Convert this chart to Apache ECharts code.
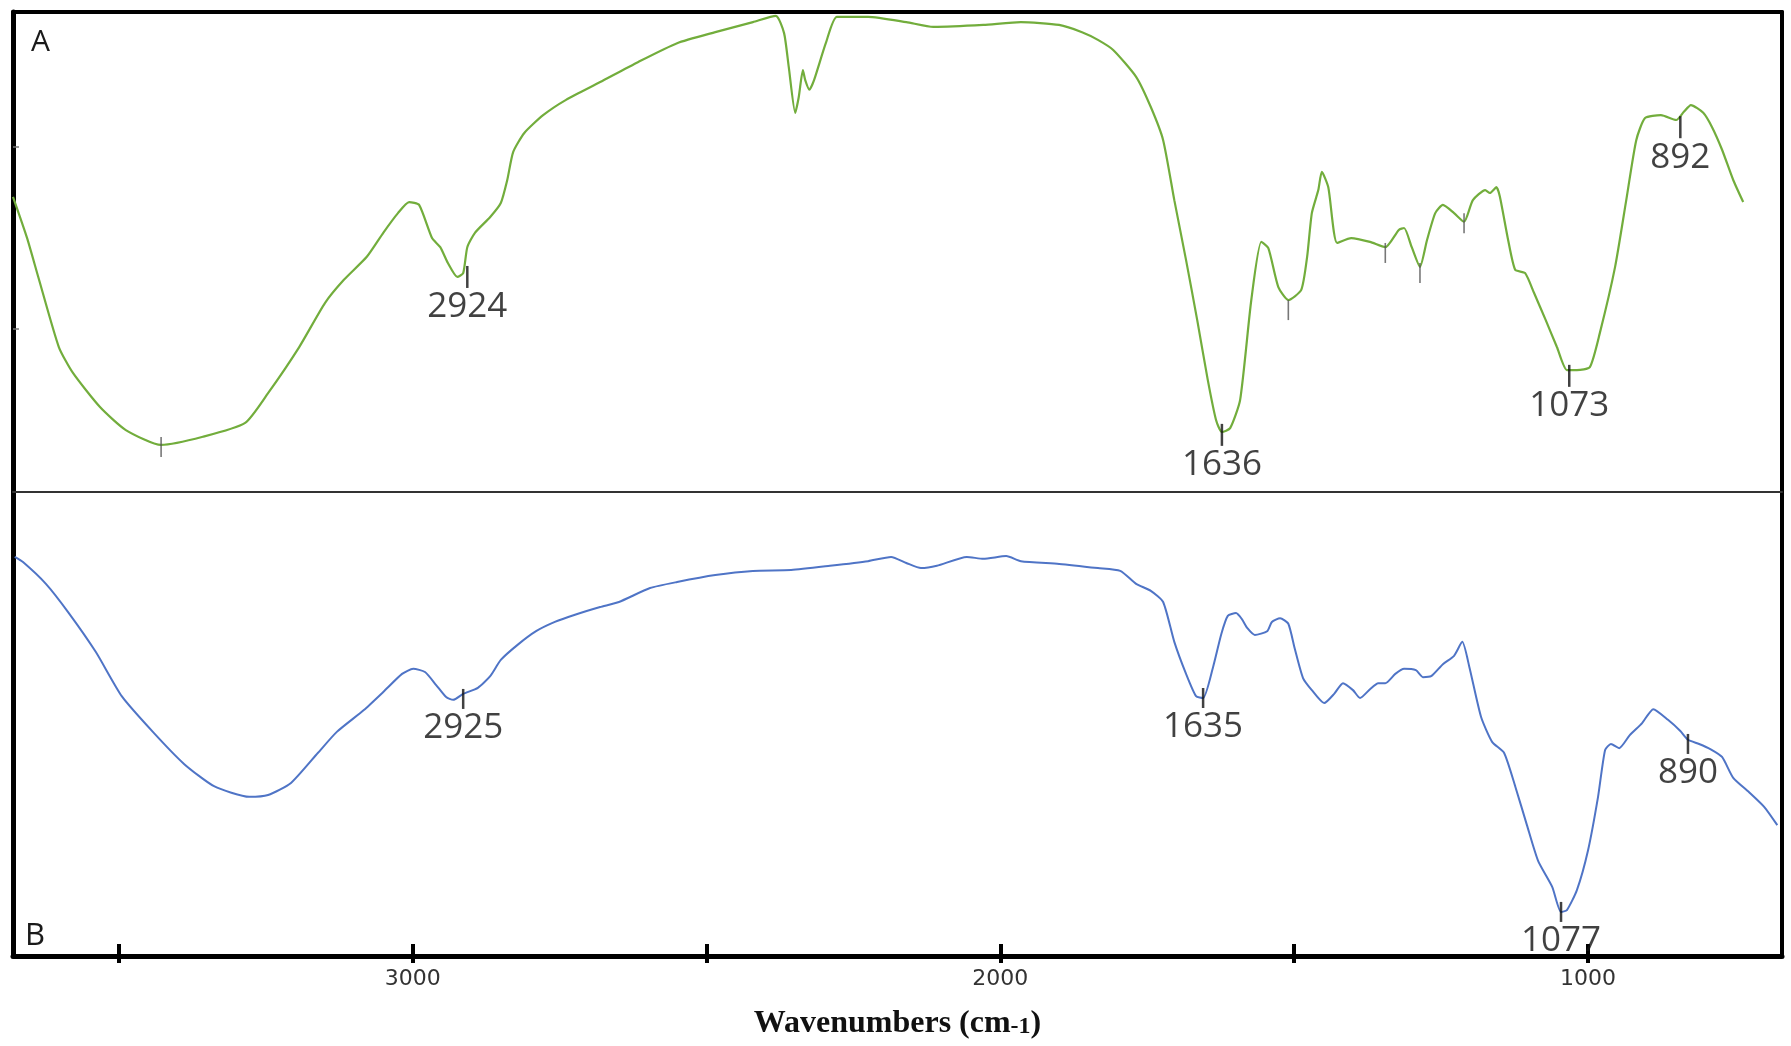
<!DOCTYPE html>
<html>
<head>
<meta charset="utf-8">
<title>FTIR spectra</title>
<script src="https://cdn.jsdelivr.net/npm/echarts/dist/echarts.min.js"></script>
<style>
  html, body { margin: 0; padding: 0; background: #fff; }
  #chart { width: 1791px; height: 1046px; }
</style>
</head>
<body>
<div id="chart"></div>
<script>
// spectrum A (green), wavenumber vs transmittance (arbitrary %)
const waveA = [3680, 3656, 3637, 3602, 3578, 3532, 3488, 3428, 3357, 3285,
  3246, 3193, 3149, 3117, 3078, 3050, 3025, 3006, 2989, 2967,
  2953, 2940, 2924, 2914, 2907, 2894, 2868, 2850, 2839, 2829,
  2810, 2778, 2739, 2681, 2616, 2550, 2485, 2421, 2382, 2368,
  2360, 2349, 2343, 2336, 2332, 2325, 2317, 2297, 2278, 2225,
  2160, 2114, 2029, 1965, 1900, 1861, 1834, 1808, 1769, 1744,
  1723, 1704, 1684, 1665, 1647, 1633, 1623, 1609, 1592, 1573,
  1556, 1544, 1527, 1510, 1488, 1478, 1470, 1459, 1453, 1442,
  1427, 1403, 1371, 1345, 1322, 1313, 1300, 1286, 1274, 1260,
  1247, 1228, 1211, 1196, 1175, 1167, 1156, 1150, 1136, 1124,
  1107, 1092, 1072, 1053, 1036, 1019, 997, 980, 954, 935,
  918, 903, 876, 850, 837, 825, 804, 789, 772, 753, 736]
const transA = [61.5, 52.9, 44.8, 30.2, 24.8, 17.7, 12.9, 9.8, 11.5, 14.4,
  20.6, 30.2, 39.4, 44.2, 49.0, 54.0, 58.1, 60.4, 59.8, 52.9,
  51.0, 47.7, 44.8, 45.6, 51.0, 54.0, 57.3, 60.2, 65.0, 70.8,
  74.8, 78.5, 81.7, 85.4, 89.6, 93.5, 95.8, 97.9, 99.2, 95.6,
  88.5, 79.0, 82.3, 87.9, 85.8, 83.8, 85.8, 93.5, 99.0, 99.0,
  97.9, 96.9, 97.3, 97.9, 97.3, 95.8, 94.2, 92.1, 86.5, 80.2,
  73.3, 60.8, 48.3, 35.8, 23.3, 15.0, 12.5, 13.3, 19.2, 40.0,
  52.1, 50.8, 42.7, 40.0, 42.1, 49.0, 58.1, 62.9, 66.7, 63.5,
  51.9, 52.9, 52.1, 51.0, 54.6, 55.0, 51.0, 46.9, 52.5, 58.1,
  59.8, 58.1, 56.3, 60.8, 62.9, 62.3, 63.5, 61.5, 52.5, 46.3,
  45.6, 41.5, 35.8, 30.2, 25.4, 25.4, 26.0, 33.1, 46.9, 60.8,
  73.3, 77.9, 78.5, 77.5, 79.2, 80.6, 79.0, 76.0, 71.3, 65.0, 60.4]

// spectrum B (blue)
const waveB = [3677, 3663, 3624, 3585, 3539, 3495, 3442, 3389, 3338, 3278,
  3246, 3207, 3161, 3129, 3083, 3050, 3018, 2999, 2979, 2960,
  2943, 2931, 2914, 2889, 2868, 2850, 2822, 2790, 2758, 2725,
  2681, 2649, 2596, 2550, 2485, 2421, 2356, 2290, 2225, 2186,
  2160, 2135, 2108, 2057, 2029, 1990, 1965, 1900, 1834, 1796,
  1769, 1744, 1723, 1704, 1684, 1667, 1655, 1638, 1624, 1613,
  1599, 1589, 1580, 1567, 1546, 1538, 1524, 1510, 1499, 1485,
  1470, 1449, 1432, 1417, 1400, 1388, 1371, 1357, 1345, 1328,
  1313, 1293, 1281, 1267, 1247, 1228, 1214, 1202, 1182, 1163,
  1143, 1124, 1104, 1085, 1061, 1046, 1036, 1019, 1000, 983,
  971, 961, 947, 929, 908, 889, 864, 843, 830, 811,
  792, 772, 753, 726, 700, 678]
const transB = [86.0, 84.9, 80.2, 73.9, 65.5, 56.0, 48.3, 41.4, 36.6, 34.3,
  34.7, 37.3, 43.8, 48.3, 53.0, 56.9, 60.8, 61.9, 61.2, 58.4,
  55.8, 55.2, 56.5, 57.8, 60.3, 63.8, 67.0, 70.0, 72.0, 73.5,
  75.2, 76.3, 79.3, 80.6, 82.1, 83.0, 83.2, 84.1, 85.1, 86.0,
  84.7, 83.6, 84.1, 86.0, 85.6, 86.2, 85.1, 84.5, 83.6, 83.0,
  80.2, 78.7, 76.3, 67.7, 60.8, 56.0, 55.6, 62.3, 69.4, 73.3,
  73.9, 72.6, 70.7, 69.2, 70.0, 72.0, 72.8, 71.6, 66.2, 59.9,
  57.3, 54.5, 56.5, 58.8, 57.3, 55.6, 57.5, 58.8, 58.8, 60.8,
  61.9, 61.6, 60.1, 60.3, 62.9, 64.7, 67.7, 62.3, 51.5, 46.1,
  43.8, 36.6, 28.2, 20.5, 14.9, 9.5, 9.9, 14.2, 22.8, 34.3,
  44.4, 45.7, 44.8, 47.6, 50.2, 53.2, 50.9, 48.5, 46.6, 45.7,
  44.6, 42.9, 38.4, 35.3, 32.1, 28.2]

// labelled peak marks (where the little bar sits on the curve)
const peakLabelsA = ['2924', '1636', '1073', '892']
const peakWaveA = [2907, 1623, 1032, 843]
const peakTransA = [44.8, 11.9, 24.2, 76.0]
// unlabelled marks on A
const minorWaveA = [3428, 1510, 1345, 1286, 1211]
const minorTransA = [9.4, 37.9, 49.8, 45.6, 56.0]

const peakLabelsB = ['2925', '1635', '1077', '890']
const peakWaveB = [2914, 1655, 1046, 830]
const peakTransB = [55.4, 55.6, 9.5, 45.7]

const xTicks = [3500, 3000, 2500, 2000, 1500, 1000]
const xLabels = [3000, 2000, 1000]
const yTicksA = [34, 72]

const X_MIN = 670
const X_MAX = 3680

const zip = (xs, ys) => xs.map((x, i) => [x, ys[i]])
const peakData = (labels, ws, ts) => ws.map((w, i) => ({ name: labels[i], value: [w, ts[i]] }))

const chart = echarts.init(document.getElementById('chart'))

const baseX = (gridIndex, extra) => Object.assign({
  type: 'value',
  gridIndex,
  min: X_MIN,
  max: X_MAX,
  inverse: true,
  splitLine: { show: false },
  axisTick: { show: false },
  axisLabel: { show: false }
}, extra)

const baseY = (gridIndex, extra) => Object.assign({
  type: 'value',
  gridIndex,
  min: 0,
  max: 100,
  splitLine: { show: false },
  axisTick: { show: false },
  axisLabel: { show: false }
}, extra)

const peakLabel = {
  show: true,
  position: 'bottom',
  distance: 2,
  formatter: '{b}',
  fontFamily: 'Open Sans',
  fontSize: 35,
  color: '#111'
}

const option = {
  animation: false,
  backgroundColor: '#fff',
  title: [
    { text: 'A', left: 26, top: 22, textStyle: { fontFamily: 'Open Sans', fontWeight: 'normal', fontSize: 30, color: '#1a1a1a' } },
    { text: 'B', left: 20, top: 916, textStyle: { fontFamily: 'Open Sans', fontWeight: 'normal', fontSize: 31, color: '#1a1a1a' } }
  ],
  grid: [
    { left: 13, right: 9, top: 12, height: 480 },
    { left: 13, right: 9, top: 492, height: 464 }
  ],
  xAxis: [
    // frame top
    baseX(0, { position: 'top', axisLine: { onZero: false, lineStyle: { color: '#000', width: 4 } } }),
    // divider between the two panels
    baseX(0, { position: 'bottom', axisLine: { onZero: false, lineStyle: { color: '#333', width: 2 } } }),
    // real wavenumber axis
    baseX(1, {
      position: 'bottom',
      axisLine: { onZero: false, lineStyle: { color: '#000', width: 5 } },
      axisTick: { show: true, inside: false, length: 7, customValues: xTicks, lineStyle: { color: '#000', width: 4 } },
      axisLabel: {
        show: true,
        customValues: xLabels,
        formatter: (v) => String(v),
        margin: 12,
        fontFamily: 'DejaVu Sans',
        fontSize: 22,
        color: '#333'
      },
      name: '{a|Wavenumbers (cm}{b|-1}{a|)}',
      nameLocation: 'middle',
      nameGap: 52,
      nameTextStyle: {
        rich: {
          a: { fontFamily: 'Liberation Serif', fontWeight: 'bold', fontSize: 32, color: '#111' },
          b: { fontFamily: 'Liberation Serif', fontWeight: 'bold', fontSize: 24, color: '#111', padding: [6, 0, 0, 0] }
        }
      }
    }),
    // inner half of the ticks (they cross the axis line)
    baseX(1, {
      position: 'bottom',
      axisLine: { show: false, onZero: false },
      axisTick: { show: true, inside: true, length: 12, customValues: xTicks, lineStyle: { color: '#000', width: 4 } }
    })
  ],
  yAxis: [
    baseY(0, {
      position: 'left',
      axisLine: { onZero: false, lineStyle: { color: '#000', width: 5 } },
      axisTick: { show: true, inside: true, length: 6, customValues: yTicksA, lineStyle: { color: '#777', width: 1.5 } }
    }),
    baseY(0, { position: 'right', axisLine: { show: true, onZero: false, lineStyle: { color: '#000', width: 4 } } }),
    baseY(1, { position: 'left', axisLine: { onZero: false, lineStyle: { color: '#000', width: 5 } } }),
    baseY(1, { position: 'right', axisLine: { show: true, onZero: false, lineStyle: { color: '#000', width: 4 } } })
  ],
  series: [
    {
      name: 'A',
      type: 'line',
      xAxisIndex: 0,
      yAxisIndex: 0,
      data: zip(waveA, transA),
      showSymbol: false,
      smooth: 0.2,
      lineStyle: { color: '#72ad3c', width: 2.2 },
      z: 3
    },
    {
      type: 'scatter',
      xAxisIndex: 0,
      yAxisIndex: 0,
      data: peakData(peakLabelsA, peakWaveA, peakTransA),
      symbol: 'rect',
      symbolSize: [2.5, 22],
      itemStyle: { color: '#111' },
      label: peakLabel,
      z: 4
    },
    {
      type: 'scatter',
      xAxisIndex: 0,
      yAxisIndex: 0,
      data: zip(minorWaveA, minorTransA),
      symbol: 'rect',
      symbolSize: [1.6, 20],
      itemStyle: { color: '#555' },
      z: 4
    },
    {
      name: 'B',
      type: 'line',
      xAxisIndex: 2,
      yAxisIndex: 2,
      data: zip(waveB, transB),
      showSymbol: false,
      smooth: 0.2,
      lineStyle: { color: '#4f74c6', width: 2 },
      z: 3
    },
    {
      type: 'scatter',
      xAxisIndex: 2,
      yAxisIndex: 2,
      data: peakData(peakLabelsB, peakWaveB, peakTransB),
      symbol: 'rect',
      symbolSize: [2.5, 20],
      itemStyle: { color: '#111' },
      label: peakLabel,
      z: 4
    }
  ]
}

chart.setOption(option)
</script>
</body>
</html>
